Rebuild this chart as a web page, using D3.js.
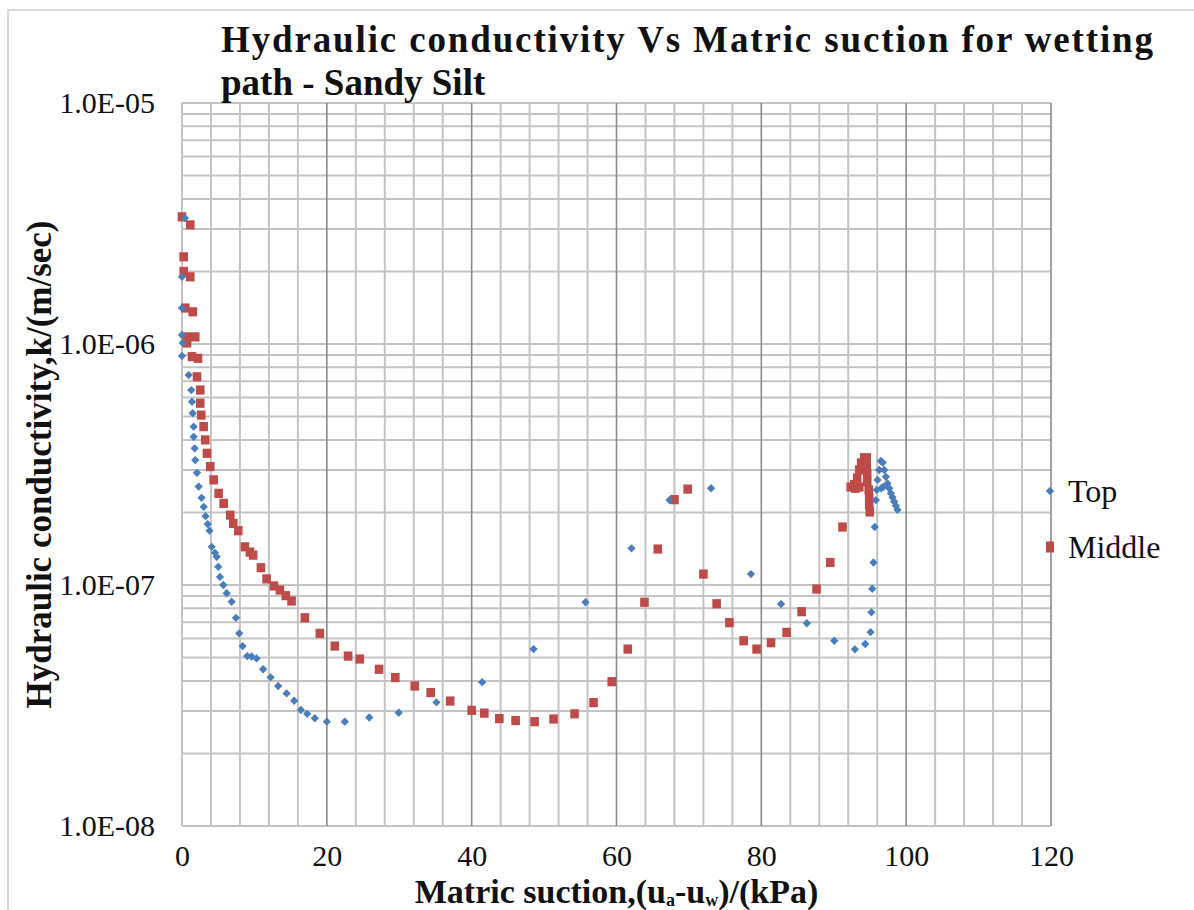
<html>
<head>
<meta charset="utf-8">
<script src="https://d3js.org/d3.v7.min.js"></script>
<style>
  body { margin: 0; background: #fff; }
  text { font-family: "Liberation Serif", "Times New Roman", serif; fill: #111; }
</style>
</head>
<body>
<svg width="1194" height="910"></svg>
<script>
// Top series (blue diamonds): matric suction (kPa) and k (m/s)
var topX = [0.4, 0.0, 0.0, 0.0, 0.1, 0.0, 0.92, 1.28, 1.38, 1.48, 1.61, 1.61, 1.75, 1.83, 2.07, 2.30, 2.7, 3.0, 3.25, 3.55, 3.8,
  4.10, 4.55, 4.79, 5.01, 5.24, 5.70, 6.17, 6.86, 7.45, 7.90, 8.37, 9.01, 9.61, 10.30, 11.21, 12.23, 13.28, 14.44, 15.49,
  16.41, 17.28, 18.34, 20.0, 22.48, 25.86, 29.93, 35.13, 41.45, 48.55, 55.72, 62.07, 67.31, 73.06, 78.57, 82.72, 86.28,
  90.07, 92.92, 94.34, 95.08, 95.2, 95.31, 95.49, 95.66,
  95.82, 95.93, 96.04, 96.28, 96.51, 96.76, 96.97, 97.2, 97.42, 97.66, 97.89, 98.11, 98.34, 98.58, 98.8, 96.55, 96.83];
var topK = [3.33e-6, 1.90e-6, 1.41e-6, 1.09e-6, 1.01e-6, 8.92e-7, 7.43e-7, 6.44e-7, 5.76e-7, 5.16e-7, 4.54e-7, 4.12e-7, 3.69e-7, 3.30e-7, 2.92e-7, 2.56e-7, 2.30e-7, 2.11e-7, 1.93e-7, 1.79e-7, 1.68e-7,
  1.44e-7, 1.36e-7, 1.31e-7, 1.19e-7, 1.08e-7, 1.00e-7, 9.24e-8, 8.52e-8, 7.31e-8, 6.30e-8, 5.58e-8, 5.07e-8, 5.05e-8, 4.96e-8, 4.47e-8, 4.14e-8, 3.81e-8, 3.55e-8, 3.31e-8,
  3.03e-8, 2.92e-8, 2.80e-8, 2.71e-8, 2.71e-8, 2.82e-8, 2.95e-8, 3.26e-8, 3.95e-8, 5.42e-8, 8.48e-8, 1.42e-7, 2.25e-7, 2.52e-7, 1.11e-7, 8.34e-8, 6.94e-8,
  5.87e-8, 5.41e-8, 5.69e-8, 6.37e-8, 7.70e-8, 9.65e-8, 1.24e-7, 1.74e-7,
  2.25e-7, 2.48e-7, 2.73e-7, 3.00e-7, 3.27e-7, 3.22e-7, 3.00e-7, 2.81e-7, 2.64e-7, 2.52e-7, 2.40e-7, 2.31e-7, 2.22e-7, 2.13e-7, 2.05e-7, 2.52e-7, 2.55e-7];

// Middle series (red squares)
var midX = [0.0, 1.14, 0.23, 0.23, 1.14, 0.46, 1.48, 0.69, 1.83, 0.69, 1.38, 2.21, 2.07, 2.52, 2.52, 2.66,
  2.99, 3.21, 3.45, 3.9, 4.37, 5.06, 5.75, 6.66, 7.08, 7.77, 8.69, 9.38, 9.83, 10.9, 11.68, 12.69, 13.52, 14.34, 15.13,
  16.97, 19.03, 21.1, 22.94, 24.55, 27.21, 29.45, 32.14, 34.34, 37.03, 40.0, 41.75, 43.82, 46.07, 48.69, 51.31, 54.21,
  56.83, 59.34, 61.56, 63.86, 65.7, 68.0, 69.83, 72.0, 73.83, 75.59, 77.56, 79.35, 81.34, 83.49, 85.56, 87.63, 89.52, 91.21,
  92.34, 92.83, 93.24, 93.52, 93.79, 94.21, 94.55, 94.55, 94.62, 94.62, 94.83, 94.9, 94.9, 94.97, 92.97, 93.52];
var midK = [3.37e-6, 3.12e-6, 2.30e-6, 2.00e-6, 1.90e-6, 1.41e-6, 1.36e-6, 1.07e-6, 1.07e-6, 1.01e-6, 8.86e-7, 8.72e-7, 7.31e-7, 6.44e-7, 5.68e-7, 5.07e-7,
  4.54e-7, 4.00e-7, 3.52e-7, 3.10e-7, 2.73e-7, 2.40e-7, 2.18e-7, 1.95e-7, 1.80e-7, 1.68e-7, 1.44e-7, 1.37e-7, 1.33e-7, 1.18e-7, 1.06e-7, 9.91e-8, 9.53e-8, 9.03e-8, 8.58e-8,
  7.31e-8, 6.30e-8, 5.58e-8, 5.07e-8, 4.93e-8, 4.47e-8, 4.13e-8, 3.81e-8, 3.58e-8, 3.30e-8, 3.02e-8, 2.94e-8, 2.79e-8, 2.74e-8, 2.71e-8, 2.78e-8, 2.92e-8,
  3.25e-8, 3.97e-8, 5.42e-8, 8.48e-8, 1.41e-7, 2.26e-7, 2.50e-7, 1.11e-7, 8.36e-8, 6.98e-8, 5.87e-8, 5.42e-8, 5.76e-8, 6.36e-8, 7.75e-8, 9.62e-8, 1.24e-7, 1.74e-7,
  2.55e-7, 2.61e-7, 2.78e-7, 3.00e-7, 3.21e-7, 3.37e-7, 3.37e-7, 3.12e-7, 2.89e-7, 2.68e-7, 2.48e-7, 2.30e-7, 2.15e-7, 2.01e-7, 2.52e-7, 2.55e-7];

var xTicks = [0, 20, 40, 60, 80, 100, 120];
var yTicks = [1e-8, 1e-7, 1e-6, 1e-5];
var yTickLabels = ["1.0E-08", "1.0E-07", "1.0E-06", "1.0E-05"];
var seriesNames = ["Top", "Middle"];
var colors = ["#4a7ebb", "#be4b48"];

var svg = d3.select("svg");

// outer chart border
svg.append("rect").attr("x", 8).attr("y", 10).attr("width", 1200).attr("height", 1000)
  .attr("fill", "none").attr("stroke", "#d9d9d9").attr("stroke-width", 2);

var x = d3.scaleLinear().domain([0, 120]).range([182, 1051]);
var y = d3.scaleLog().domain([1e-8, 1e-5]).range([826, 103]);

// horizontal grid: log minors + decades
var hLines = [];
for (var e = -8; e < -5; e++) {
  for (var m = 1; m <= 9; m++) hLines.push(m * Math.pow(10, e));
}
hLines.push(1e-5);
svg.append("g").selectAll("line").data(hLines).join("line")
  .attr("x1", x(0)).attr("x2", x(120))
  .attr("y1", d => y(d)).attr("y2", d => y(d))
  .attr("stroke", "#c3c3c3").attr("stroke-width", 2);

// vertical grid: minors every 4, majors every 20
var vLines = d3.range(0, 121, 4);
svg.append("g").selectAll("line").data(vLines).join("line")
  .attr("x1", d => x(d)).attr("x2", d => x(d))
  .attr("y1", y(1e-5)).attr("y2", y(1e-8))
  .attr("stroke", d => (d % 20 === 0 && d > 0) ? "#8a8a8a" : "#c3c3c3")
  .attr("stroke-width", d => (d % 20 === 0 && d > 0) ? 1.6 : 2);

// axes (labels only)
var yAxis = svg.append("g").attr("transform", "translate(" + x(0) + ",0)")
  .call(d3.axisLeft(y).tickValues(yTicks).tickFormat((d, i) => yTickLabels[i]).tickSize(0).tickPadding(27));
yAxis.select(".domain").remove();
yAxis.selectAll("text").attr("font-size", 30).attr("font-family", "Liberation Serif").attr("fill", "#111");

var xAxis = svg.append("g").attr("transform", "translate(0," + y(1e-8) + ")")
  .call(d3.axisBottom(x).tickValues(xTicks).tickSize(0).tickPadding(19));
xAxis.select(".domain").remove();
xAxis.selectAll("text").attr("font-size", 30).attr("font-family", "Liberation Serif").attr("fill", "#111");

// markers
var topData = topX.map((v, i) => ({x: v, k: topK[i]}));
var midData = midX.map((v, i) => ({x: v, k: midK[i]}));

svg.append("g").selectAll("rect").data(midData).join("rect")
  .attr("x", d => x(d.x) - 4.3).attr("y", d => y(d.k) - 4.6)
  .attr("width", 8.6).attr("height", 9.2)
  .attr("fill", colors[1]);

var diamond = d3.symbol().type(d3.symbolDiamond2).size(44);
svg.append("g").selectAll("path").data(topData).join("path")
  .attr("d", diamond)
  .attr("transform", d => "translate(" + x(d.x) + "," + y(d.k) + ")")
  .attr("fill", colors[0]);

// title
svg.append("text").attr("x", 221).attr("y", 52)
  .attr("font-size", 37).attr("font-weight", "bold")
  .attr("textLength", 932).attr("lengthAdjust", "spacing")
  .text("Hydraulic conductivity Vs Matric suction for wetting");
svg.append("text").attr("x", 221).attr("y", 95)
  .attr("font-size", 37).attr("font-weight", "bold")
  .text("path - Sandy Silt");

// axis titles
var xt = svg.append("text").attr("x", (x(0) + x(120)) / 2).attr("y", 903)
  .attr("text-anchor", "middle").attr("font-size", 34).attr("font-weight", "bold");
xt.append("tspan").text("Matric suction,(u");
xt.append("tspan").attr("font-size", 18).attr("dy", 3).text("a");
xt.append("tspan").attr("dy", -3).text("-u");
xt.append("tspan").attr("font-size", 18).attr("dy", 3).text("w");
xt.append("tspan").attr("dy", -3).text(")/(kPa)");

svg.append("text")
  .attr("transform", "translate(51," + ((y(1e-5) + y(1e-8)) / 2) + ") rotate(-90)")
  .attr("text-anchor", "middle").attr("font-size", 35).attr("font-weight", "bold")
  .text("Hydraulic conductivity,k/(m/sec)");

// legend
var legY = [491, 547];
var leg = svg.append("g");
leg.append("path").attr("d", diamond).attr("transform", "translate(1050," + legY[0] + ")").attr("fill", colors[0]);
leg.append("rect").attr("x", 1046).attr("y", legY[1] - 5.5).attr("width", 8).attr("height", 11).attr("fill", colors[1]);
leg.selectAll("text").data(seriesNames).join("text")
  .attr("x", 1068).attr("y", (d, i) => legY[i] + 11)
  .attr("font-size", 32).text(d => d);
</script>
</body>
</html>
